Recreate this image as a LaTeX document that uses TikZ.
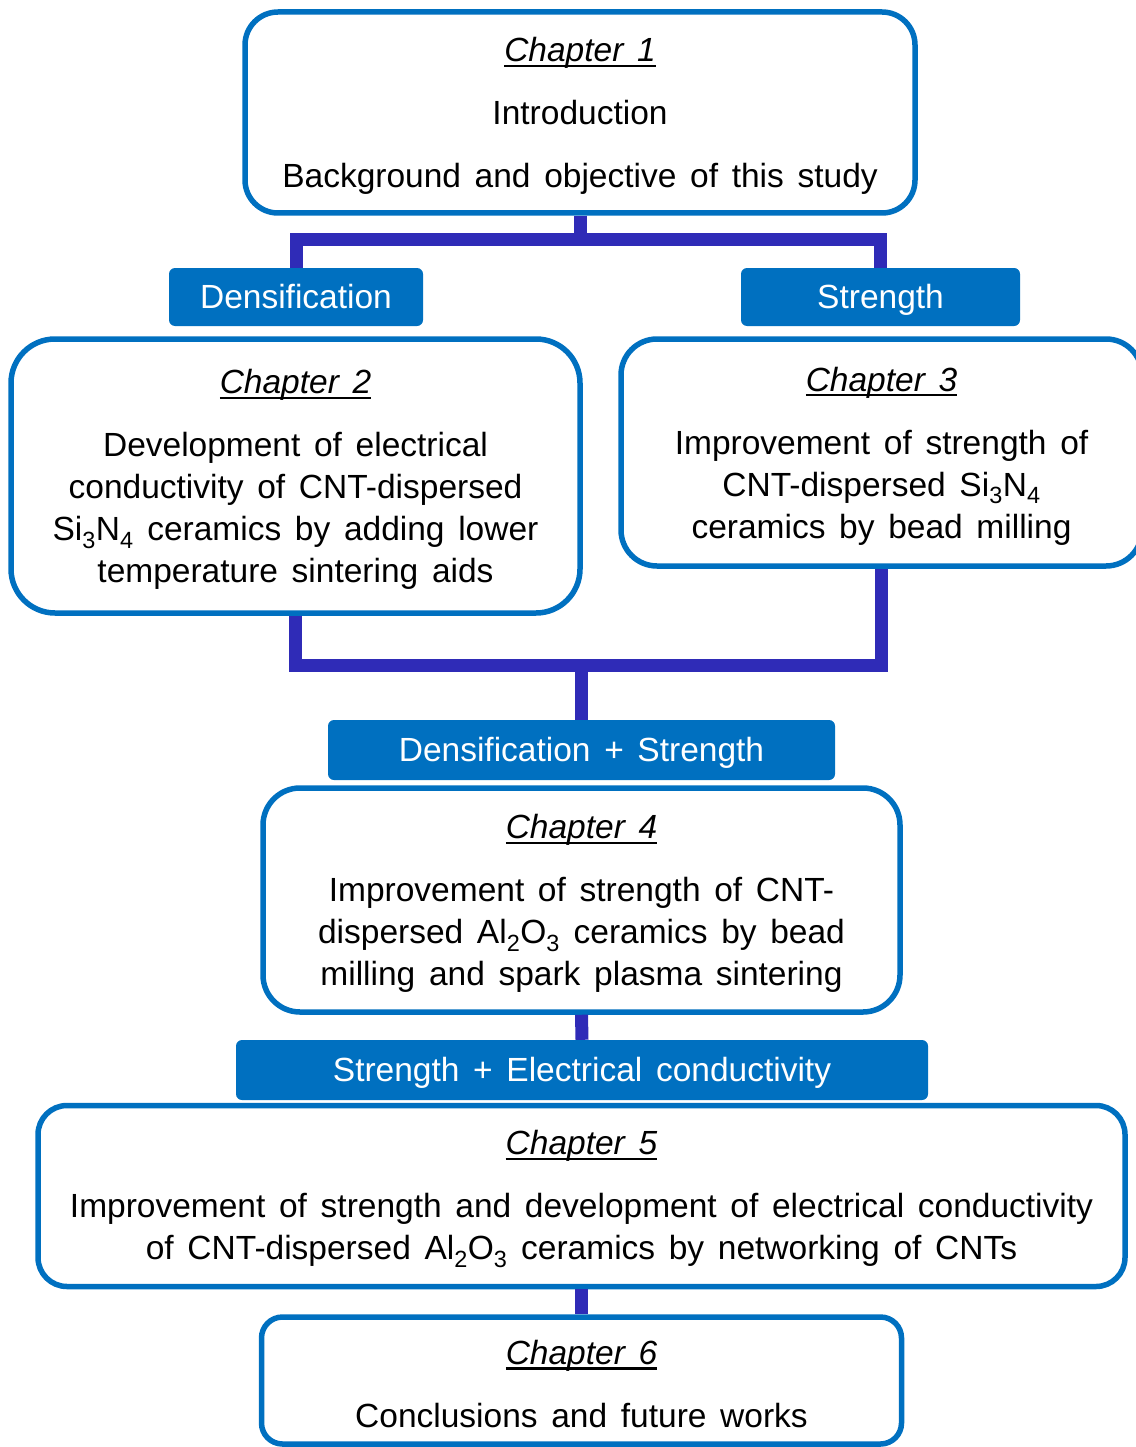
\documentclass[tikz,border=0pt]{standalone}
\usepackage{fontspec}
\setmainfont{Liberation Sans}[WordSpace=1.47]
\newcommand\chapul[1]{\setbox0\hbox{\textit{#1}}\leavevmode\vrule width 0pt height 31pt\hbox to \wd0{\rlap{\vrule height -0.09em depth 0.16em width \wd0}\box0}}
\definecolor{boxblue}{HTML}{0070C0}
\definecolor{connblue}{RGB}{47,43,183}
\tikzset{
  chapbox/.style={draw=boxblue, line width=5.5pt, fill=white, rounded corners=#1, inner sep=0pt, align=center, font=\fontsize{33.5}{42}\selectfont},
  labbox/.style={fill=boxblue, rounded corners=6pt, text=white, inner sep=0pt, text height=30pt, text depth=7pt, font=\fontsize{33.5}{42}\selectfont},
  conn/.style={draw=connblue, line width=13pt}
}
\begin{document}
\begin{tikzpicture}[x=1pt,y=-1pt]
\useasboundingbox (0,0) rectangle (1135,1447);
% chapter boxes
\node[chapbox=33, minimum width=670pt, minimum height=201pt] (c1) at (580,112.5)
  {\chapul{Chapter 1}\\[21pt]Introduction\\[21pt]Background and objective of this study};
\node[chapbox=44, minimum width=569pt, minimum height=274pt] (c2) at (295.5,476)
  {\chapul{Chapter 2}\\[21pt]Development of electrical\\conductivity of CNT-dispersed\\Si\textsubscript{3}N\textsubscript{4} ceramics by adding lower\\temperature sintering aids};
\node[chapbox=36, minimum width=521pt, minimum height=227pt] (c3) at (881.5,452.5)
  {\chapul{Chapter 3}\\[21pt]Improvement of strength of\\CNT-dispersed Si\textsubscript{3}N\textsubscript{4}\\ceramics by bead milling};
\node[chapbox=37, minimum width=637pt, minimum height=224pt] (c4) at (581.5,900)
  {\chapul{Chapter 4}\\[21pt]Improvement of strength of CNT-\\dispersed Al\textsubscript{2}O\textsubscript{3} ceramics by bead\\milling and spark plasma sintering};
\node[chapbox=29, minimum width=1087pt, minimum height=181pt] (c5) at (581.5,1196)
  {\chapul{Chapter 5}\\[21pt]Improvement of strength and development of electrical conductivity\\of CNT-dispersed Al\textsubscript{2}O\textsubscript{3} ceramics by networking of CNTs};
\node[chapbox=21, minimum width=640pt, minimum height=127pt] (c6) at (581.5,1380.5)
  {\chapul{Chapter 6}\\[21pt]Conclusions and future works};
% labels
\node[labbox, minimum width=254pt, minimum height=58pt] (dens) at (296,297) {Densification};
\node[labbox, minimum width=279pt, minimum height=58pt] (str) at (880.5,297) {Strength};
\node[labbox, minimum width=507pt, minimum height=60pt] (ds) at (581.5,750) {Densification + Strength};
\node[labbox, minimum width=692pt, minimum height=60pt] (sec) at (582,1070) {Strength + Electrical conductivity};
% junctions
\coordinate (j1) at (580,240);
\coordinate (j2) at (581.5,665);
% connectors
\draw[conn] (c1.south) -- (j1);
\draw[conn] (dens.north) -- (dens.north |- j1) -- (str.north |- j1) -- (str.north);
\draw[conn] (c2.south) -- (c2.south |- j2) -- (c3.south |- j2) -- (c3.south);
\draw[conn] (j2) -- (ds.north);
\draw[conn] (c4.south) -- (sec.north);
\draw[conn] (c5.south) -- (c6.north);
\end{tikzpicture}
\end{document}
